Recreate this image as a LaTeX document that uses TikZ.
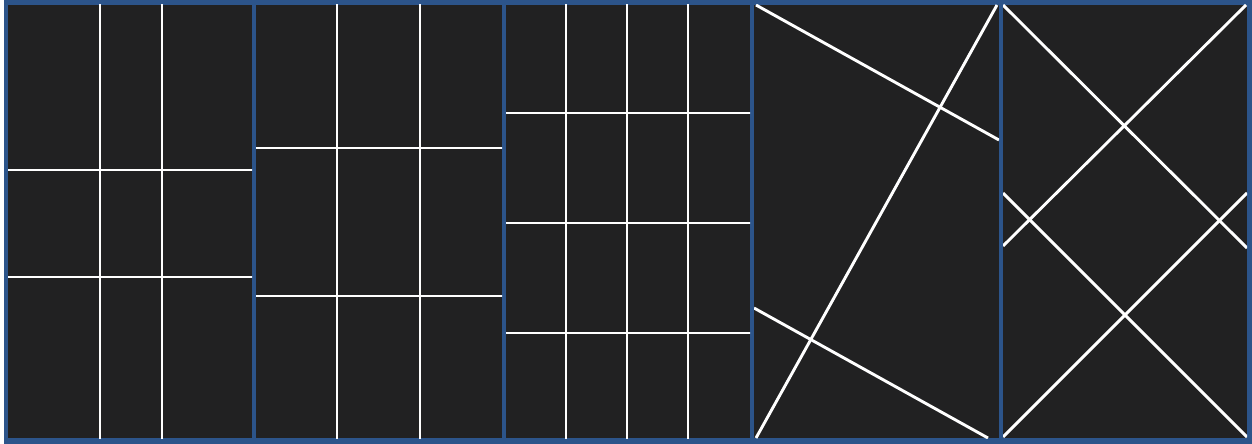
\documentclass[tikz,border=0pt]{standalone}
\usetikzlibrary{calc}
\definecolor{panelbg}{RGB}{33,33,34}
\definecolor{frameblue}{RGB}{44,84,138}
\begin{document}
\begin{tikzpicture}[x=1pt, y=-1pt, cut/.style={white, line width=2.9pt}]
  \useasboundingbox (0,0) rectangle (1252,444);
  % Cadre bleu et fonds des panneaux
  \fill[frameblue] (4,0) rectangle (1252,444);
  \foreach \xa/\xb in {8/252, 256/502, 506/750, 754/999, 1003/1247}
    \fill[panelbg] (\xa,5) rectangle (\xb,438);
  % Panneau 1 : grille 3x3
  \begin{scope}
    \clip (8,5) rectangle (252,438);
    \foreach \x in {100,162} \draw[cut] (\x,0) -- (\x,444);
    \foreach \y in {170,277} \draw[cut] (0,\y) -- (260,\y);
  \end{scope}
  % Panneau 2 : grille 3x3 decalee
  \begin{scope}
    \clip (256,5) rectangle (502,438);
    \foreach \x in {337,420} \draw[cut] (\x,0) -- (\x,444);
    \foreach \y in {148,296} \draw[cut] (250,\y) -- (510,\y);
  \end{scope}
  % Panneau 3 : grille 4x4
  \begin{scope}
    \clip (506,5) rectangle (750,438);
    \foreach \x in {566,627,688} \draw[cut] (\x,0) -- (\x,444);
    \foreach \y in {113,223,333} \draw[cut] (500,\y) -- (760,\y);
  \end{scope}
  % Panneau 4 : coupes obliques
  \begin{scope}
    \clip (754,5) rectangle (999,438);
    \draw[cut] (756,5) -- (999,140);
    \draw[cut] (997,5) -- (756,438);
    \draw[cut] (754,308) -- (988,438);
  \end{scope}
  % Panneau 5 : croisillons
  \begin{scope}
    \clip (1003,5) rectangle (1247,438);
    \draw[cut] (1003,5) -- (1247,248);
    \draw[cut] (1246,5) -- (1003,246);
    \draw[cut] (1003,193) -- (1247,437);
    \draw[cut] (1247,193) -- (1003,437);
  \end{scope}
\end{tikzpicture}
\end{document}
